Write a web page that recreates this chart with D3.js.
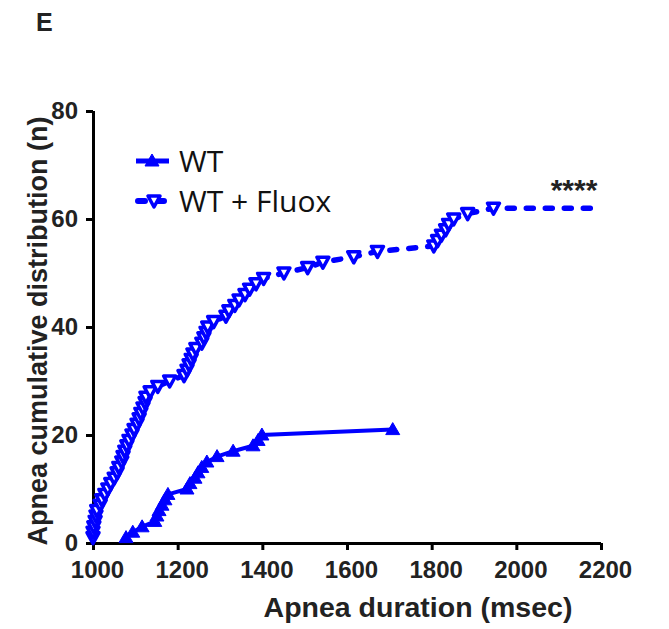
<!DOCTYPE html>
<html>
<head>
<meta charset="utf-8">
<script src="https://cdn.jsdelivr.net/npm/d3@7"></script>
<style>
  body { margin: 0; background: #fff; }
  svg { display: block; }
</style>
</head>
<body>
<svg id="chart"></svg>
<script>
// x values (msec) for each cumulative count n = 1, 2, 3 ...
const wtDurations = [1078, 1094, 1116, 1146, 1151, 1156, 1163, 1170, 1177, 1222,
    1229, 1241, 1248, 1257, 1269, 1293, 1331, 1378, 1390, 1399, 1708];

const fluoxDurations = [1000, 1000, 1002, 1005, 1007, 1009, 1017, 1021, 1028, 1035,
    1042, 1050, 1057, 1061, 1068, 1071, 1075, 1080, 1085, 1092,
    1097, 1104, 1109, 1113, 1118, 1123, 1125, 1135, 1153, 1181,
    1215, 1222, 1227, 1232, 1236, 1243, 1257, 1262, 1267, 1271,
    1285, 1314, 1321, 1335, 1345, 1359, 1370, 1385, 1403, 1451,
    1507, 1543, 1616, 1672, 1805, 1814, 1823, 1833, 1840, 1852,
    1885, 1946];

const xTicks = [1000, 1200, 1400, 1600, 1800, 2000, 2200];
const yTicks = [0, 20, 40, 60, 80];
const seriesNames = ['WT', 'WT + Fluox'];

const width = 669, height = 629;
const blue = '#0000ff';
const tickFont = '"Liberation Sans", Arial, sans-serif';

const svg = d3.select('#chart')
    .attr('width', width)
    .attr('height', height);

const xscale = d3.scaleLinear().domain([1000, 2200]).range([93, 601]);
const yscale = d3.scaleLinear().domain([0, 80]).range([543, 111]);

const wt = wtDurations.map((d, i) => ({x: d, n: i + 1}));
const fluox = fluoxDurations.map((d, i) => ({x: d, n: i + 1}));

const line = d3.line()
    .x(d => xscale(d.x))
    .y(d => yscale(d.n));

// panel letter
svg.append('text')
    .attr('x', 36).attr('y', 31)
    .attr('fill', '#222')
    .style('font-family', tickFont)
    .style('font-weight', 'bold')
    .style('font-size', '25px')
    .text('E');

// axes
const xaxis = d3.axisBottom(xscale).tickValues(xTicks).tickFormat(d3.format('d'))
    .tickSize(7).tickPadding(5).tickSizeOuter(0);
const yaxis = d3.axisLeft(yscale).tickValues(yTicks).tickFormat(d3.format('d'))
    .tickSize(7).tickPadding(5).tickSizeOuter(0);

const gx = svg.append('g')
    .attr('transform', `translate(0, ${yscale(0)})`)
    .call(xaxis);
const gy = svg.append('g')
    .attr('transform', `translate(${xscale(1000)}, 0)`)
    .call(yaxis);

[gx, gy].forEach(g => {
    g.select('.domain').attr('stroke', '#000').attr('stroke-width', 3);
    g.selectAll('.tick line').attr('stroke', '#000').attr('stroke-width', 3);
    g.selectAll('.tick text')
        .attr('fill', '#222')
        .style('font-family', tickFont)
        .style('font-weight', 'bold')
        .style('font-size', '24px');
});
gx.select('.domain').attr('d', `M${xscale(1000) - 4},0.5H${xscale(2200)}`);
gy.select('.domain').attr('d', `M0.5,${yscale(0)}V${yscale(80)}`);
gx.selectAll('.tick text').attr('dy', '0.95em').attr('dx', 4);
gy.selectAll('.tick text').attr('dy', '0.3em').attr('dx', -3);

// axis titles
svg.append('text')
    .attr('x', 418).attr('y', 617)
    .attr('text-anchor', 'middle')
    .attr('fill', '#222')
    .style('font-family', tickFont)
    .style('font-weight', 'bold')
    .style('font-size', '28.5px')
    .text('Apnea duration (msec)');

svg.append('text')
    .attr('transform', 'rotate(-90)')
    .attr('x', -331).attr('y', 47)
    .attr('text-anchor', 'middle')
    .attr('fill', '#222')
    .style('font-family', tickFont)
    .style('font-weight', 'bold')
    .style('font-size', '27px')
    .text('Apnea cumulative distribution (n)');

// WT + Fluox dashed line, continued flat to the end of the axis
const last = fluox[fluox.length - 1];
svg.append('path')
    .attr('d', line(fluox.concat([{x: xscale.domain()[1], n: last.n}])))
    .attr('fill', 'none')
    .attr('stroke', blue)
    .attr('stroke-width', 5.5)
    .attr('stroke-dasharray', '7,12')
    .attr('stroke-linecap', 'round');

// WT solid line
svg.append('path')
    .attr('d', line(wt))
    .attr('fill', 'none')
    .attr('stroke', blue)
    .attr('stroke-width', 4);

const triUp = 'M0,-7L7,5L-7,5Z';
const triDown = 'M-6,-5L6,-5L0,6Z';

svg.append('g').selectAll('path')
    .data(fluox)
    .join('path')
    .attr('d', triDown)
    .attr('transform', d => `translate(${xscale(d.x)}, ${yscale(d.n)})`)
    .attr('fill', '#fff')
    .attr('stroke', blue)
    .attr('stroke-width', 3.5)
    .attr('stroke-linejoin', 'round');

svg.append('g').selectAll('path')
    .data(wt)
    .join('path')
    .attr('d', triUp)
    .attr('transform', d => `translate(${xscale(d.x)}, ${yscale(d.n)})`)
    .attr('fill', blue)
    .attr('stroke', blue)
    .attr('stroke-width', 1);

// legend
const legend = svg.append('g');
const legendRows = [
    {name: seriesNames[0], y: 161, dash: null, mark: triUp, fill: blue, sw: 1, lw: 5},
    {name: seriesNames[1], y: 201, dash: '7,12', mark: triDown, fill: '#fff', sw: 3.5, lw: 6}
];
legendRows.forEach(r => {
    legend.append('line')
        .attr('x1', r.dash ? 138 : 136).attr('x2', r.dash ? 168 : 169)
        .attr('y1', r.y).attr('y2', r.y)
        .attr('stroke', blue)
        .attr('stroke-width', r.lw)
        .attr('stroke-dasharray', r.dash)
        .attr('stroke-linecap', r.dash ? 'round' : 'butt');
    legend.append('path')
        .attr('d', r.mark)
        .attr('transform', `translate(${r.dash ? 154 : 152}, ${r.y})`)
        .attr('fill', r.fill)
        .attr('stroke', blue)
        .attr('stroke-width', r.sw)
        .attr('stroke-linejoin', 'round');
    legend.append('text')
        .attr('x', 179).attr('y', r.y + 11)
        .style('font-family', '"Open Sans", sans-serif')
        .style('font-size', '30px')
        .attr('fill', '#111')
        .text(r.name);
});

// significance marker
svg.append('text')
    .attr('x', 574).attr('y', 200)
    .attr('text-anchor', 'middle')
    .style('font-family', tickFont)
    .style('font-weight', 'bold')
    .style('font-size', '30px')
    .attr('fill', '#222')
    .text('****');
</script>
</body>
</html>
